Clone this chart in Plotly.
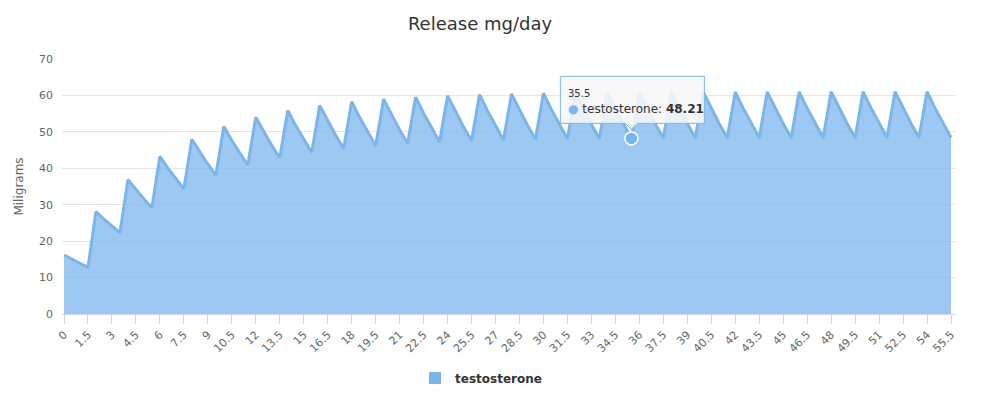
import plotly.graph_objects as go

days = [0, 0.5, 1, 1.5, 2, 2.5, 3, 3.5, 4, 4.5, 5, 5.5, 6, 6.5, 7, 7.5,
        8, 8.5, 9, 9.5, 10, 10.5, 11, 11.5, 12, 12.5, 13, 13.5, 14, 14.5, 15, 15.5,
        16, 16.5, 17, 17.5, 18, 18.5, 19, 19.5, 20, 20.5, 21, 21.5, 22, 22.5, 23, 23.5,
        24, 24.5, 25, 25.5, 26, 26.5, 27, 27.5, 28, 28.5, 29, 29.5, 30, 30.5, 31, 31.5,
        32, 32.5, 33, 33.5, 34, 34.5, 35, 35.5, 36, 36.5, 37, 37.5, 38, 38.5, 39, 39.5,
        40, 40.5, 41, 41.5, 42, 42.5, 43, 43.5, 44, 44.5, 45, 45.5, 46, 46.5, 47, 47.5,
        48, 48.5, 49, 49.5, 50, 50.5, 51, 51.5, 52, 52.5, 53, 53.5, 54, 54.5, 55, 55.5]

testosterone = [
    16.20, 15.00, 13.89, 12.85,
    28.10, 26.01, 24.08, 22.30,
    36.84, 34.11, 31.58, 29.23,
    43.26, 40.05, 37.08, 34.33,
    47.98, 44.42, 41.12, 38.07,
    51.45, 47.63, 44.10, 40.83,
    53.99, 49.98, 46.28, 42.84,
    55.86, 51.72, 47.88, 44.33,
    57.24, 52.99, 49.06, 45.42,
    58.25, 53.93, 49.93, 46.22,
    58.99, 54.61, 50.56, 46.81,
    59.53, 55.11, 51.02, 47.24,
    59.93, 55.48, 51.37, 47.55,
    60.23, 55.76, 51.62, 47.79,
    60.44, 55.96, 51.80, 47.96,
    60.60, 56.10, 51.94, 48.09,
    60.72, 56.21, 52.04, 48.18,
    60.76, 56.25, 52.08, 48.21,
    60.87, 56.35, 52.17, 48.30,
    60.91, 56.39, 52.21, 48.33,
    60.95, 56.43, 52.24, 48.36,
    60.97, 56.45, 52.26, 48.38,
    60.99, 56.46, 52.27, 48.40,
    61.00, 56.47, 52.28, 48.40,
    61.01, 56.48, 52.29, 48.41,
    61.02, 56.49, 52.30, 48.42,
    61.03, 56.50, 52.31, 48.43,
    61.03, 56.50, 52.31, 48.43,
]

tick_labels = ["0", "1.5", "3", "4.5", "6", "7.5", "9", "10.5", "12", "13.5", "15",
               "16.5", "18", "19.5", "21", "22.5", "24", "25.5", "27", "28.5", "30",
               "31.5", "33", "34.5", "36", "37.5", "39", "40.5", "42", "43.5", "45",
               "46.5", "48", "49.5", "51", "52.5", "54", "55.5"]

series_name = "testosterone"
hover_day = "35.5"
hover_value = 48.21

cats = [f"{d:g}" for d in days]
hover_idx = cats.index(hover_day)
FONT = "DejaVu Sans, Verdana, Arial, sans-serif"
BLUE = "#7cb5ec"

fig = go.Figure()
fig.add_trace(go.Scatter(
    x=cats, y=testosterone, name=series_name, mode="lines",
    line=dict(color=BLUE, width=3),
    fill="tozeroy", fillcolor="rgba(124,181,236,0.75)",
    hoverinfo="skip", showlegend=False,
))
# legend entry (square symbol like the reference)
fig.add_trace(go.Scatter(
    x=[None], y=[None], name=f"<b>{series_name}</b>", mode="markers",
    marker=dict(symbol="square", size=12, color=BLUE), showlegend=True,
))
fig.add_trace(go.Scatter(
    x=[hover_day], y=[hover_value], mode="markers", showlegend=False,
    marker=dict(size=13, color=BLUE, line=dict(color="white", width=1.5)),
    hoverinfo="skip",
))

# tooltip box with callout
fig.add_shape(
    type="path", xref="x", yref="y", xsizemode="pixel", ysizemode="pixel",
    xanchor=hover_idx, yanchor=hover_value,
    path="M -71,15 L -6,15 L 0,9 L 6,15 L 73,15 L 73,62 L -71,62 Z",
    fillcolor="rgba(247,247,247,0.88)", line=dict(color=BLUE, width=1),
    layer="above",
)
fig.add_annotation(
    x=hover_idx, y=hover_value, xref="x", yref="y",
    xanchor="left", yanchor="bottom", xshift=-65, yshift=20,
    showarrow=False, align="left",
    text=(f"<span style='font-size:10px'>{hover_day}</span><br>"
          f"<span style='color:{BLUE}'>●</span> {series_name}: <b>{hover_value:.2f}</b>"),
    font=dict(family=FONT, size=12, color="#333333"),
)

fig.update_layout(
    width=991, height=394,
    margin=dict(l=62, r=36, t=59, b=80, autoexpand=False),
    paper_bgcolor="white", plot_bgcolor="white",
    font=dict(family=FONT, color="#666666", size=11),
    title=dict(text="Release mg/day", x=480 / 991, xref="container", xanchor="center",
               y=1 - 24 / 394, yref="container", yanchor="middle",
               font=dict(family=FONT, size=18, color="#333333")),
    showlegend=True,
    legend=dict(orientation="h", x=481 / 991, xref="container", xanchor="center",
                y=16 / 394, yref="container", yanchor="middle",
                font=dict(family=FONT, size=12, color="#333333"),
                itemclick=False),
    xaxis=dict(type="category", categoryorder="array", categoryarray=cats,
               range=[-0.25, 111.5], tickmode="array", tickvals=tick_labels,
               ticktext=tick_labels, tickangle=-45, ticks="outside", ticklen=9,
               tickcolor="#ccd6eb", showline=True, linecolor="#ccd6eb", linewidth=1,
               showgrid=False, automargin=False, tickfont=dict(size=11, color="#666666")),
    yaxis=dict(range=[0, 70], dtick=10, showgrid=True, gridcolor="#e6e6e6",
               zeroline=False, showline=False, ticks="", ticklabelstandoff=8,
               automargin=False,
               title=dict(text="Miligrams", font=dict(size=12, color="#666666"), standoff=12),
               tickfont=dict(size=11, color="#666666")),
)

fig.write_html("out.html", config={"displayModeBar": False},
               post_script="document.body.style.margin='0';")
